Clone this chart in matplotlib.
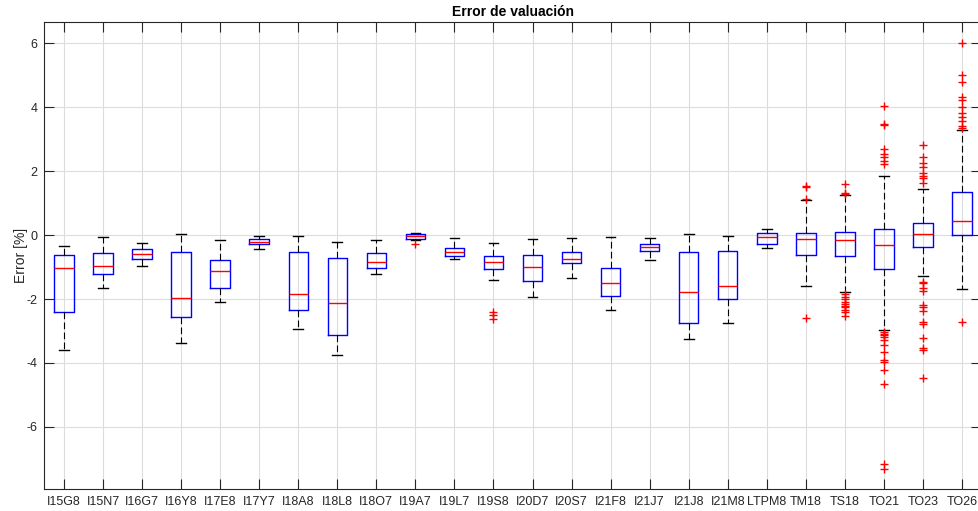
import matplotlib
matplotlib.use("Agg")
from matplotlib import pyplot as plt

plt.rcParams['font.family'] = ['Liberation Sans', 'DejaVu Sans']
plt.rcParams['axes.unicode_minus'] = False

# Nombres de las series
labels = ["I15G8", "I15N7", "I16G7", "I16Y8", "I17E8", "I17Y7", "I18A8", "I18L8",
          "I18O7", "I19A7", "I19L7", "I19S8", "I20D7", "I20S7", "I21F8", "I21J7",
          "I21J8", "I21M8", "LTPM8", "TM18", "TS18", "TO21", "TO23", "TO26"]

# Estadisticos [%]
whis_hi = [-0.34, -0.05, -0.26, 0.02, -0.15, -0.02, -0.02, -0.21,
           -0.15, 0.06, -0.09, -0.26, -0.11, -0.09, -0.05, -0.08,
           0.02, -0.02, 0.18, 1.10, 1.25, 1.83, 1.43, 3.29]
q3 = [-0.62, -0.55, -0.45, -0.54, -0.79, -0.11, -0.52, -0.72,
      -0.56, 0.02, -0.39, -0.67, -0.61, -0.54, -1.04, -0.27,
      -0.54, -0.49, 0.06, 0.05, 0.10, 0.19, 0.37, 1.33]
medians = [-1.03, -0.96, -0.60, -1.98, -1.13, -0.23, -1.84, -2.12,
           -0.83, -0.04, -0.53, -0.83, -0.99, -0.76, -1.51, -0.36,
           -1.78, -1.59, -0.06, -0.13, -0.16, -0.30, 0.03, 0.45]
q1 = [-2.41, -1.23, -0.75, -2.56, -1.67, -0.28, -2.35, -3.11,
      -1.03, -0.11, -0.65, -1.07, -1.43, -0.89, -1.91, -0.49,
      -2.76, -2.01, -0.28, -0.64, -0.67, -1.06, -0.38, 0.00]
whis_lo = [-3.60, -1.65, -0.97, -3.37, -2.10, -0.44, -2.93, -3.75,
           -1.23, -0.14, -0.76, -1.41, -1.95, -1.33, -2.34, -0.77,
           -3.25, -2.74, -0.42, -1.58, -1.79, -2.97, -1.27, -1.70]

# Valores atipicos
outliers = {
    "I19A7": [-0.29],
    "I19S8": [-2.42, -2.50, -2.63],
    "TM18": [1.13, 1.50, 1.54, -2.58],
    "TS18": [1.58, 1.32, 1.29, -1.85, -1.93, -2.01, -2.09, -2.16, -2.22,
             -2.26, -2.33, -2.40, -2.54],
    "TO21": [4.02, 3.47, 3.43, 2.68, 2.54, 2.43, 2.33, 2.22,
             -3.03, -3.08, -3.13, -3.20, -3.29, -3.44, -3.65, -3.91,
             -3.97, -4.21, -4.66, -7.15, -7.30],
    "TO23": [2.80, 2.43, 2.26, 2.12, 1.95, 1.83, 1.77, 1.64,
             -1.46, -1.51, -1.67, -1.74, -2.19, -2.26, -2.38, -2.71,
             -2.79, -3.23, -3.52, -3.60, -4.46],
    "TO26": [6.00, 5.01, 4.78, 4.31, 4.23, 4.00, 3.81, 3.70, 3.58,
             3.41, 3.34, -2.71],
}

stats = []
for i, name in enumerate(labels):
    stats.append({"med": medians[i], "q1": q1[i], "q3": q3[i],
                  "whislo": whis_lo[i], "whishi": whis_hi[i],
                  "fliers": outliers.get(name, [])})

fig = plt.figure(figsize=(9.79, 5.11), dpi=100)
ax = fig.add_axes([44.5 / 979, 22 / 511, 937 / 979, 467 / 511])

pos = list(range(1, len(labels) + 1))
ax.bxp(stats, positions=pos, widths=0.5, capwidths=0.25,
       boxprops=dict(color="blue", linewidth=1.0),
       medianprops=dict(color="red", linewidth=1.0),
       whiskerprops=dict(color="black", linewidth=0.8, linestyle=(0, (6, 3))),
       capprops=dict(color="black", linewidth=1.0),
       flierprops=dict(marker="+", markeredgecolor="red", markersize=6,
                       markeredgewidth=1.0, linestyle="none"),
       zorder=3)

ax.set_xlim(0.5, 24.5)
ax.set_ylim(-7.94, 6.66)
ax.set_yticks([-6, -4, -2, 0, 2, 4, 6])
ax.set_xticks(pos)
ax.set_xticklabels(labels)

ax.grid(True, color="#dcdcdc", linewidth=0.8)
ax.set_axisbelow(True)
ax.tick_params(direction="in", length=7, width=0.8, top=True, right=True,
               labelsize=9, colors="#262626", pad=5)
for s in ax.spines.values():
    s.set_color("#262626")
    s.set_linewidth(0.8)

ax.set_title("Error de valuación", fontsize=10, fontweight="bold", pad=4)
ax.set_ylabel("Error [%]", fontsize=10, color="#262626", labelpad=-1)

fig.savefig("out.png", dpi=100)
